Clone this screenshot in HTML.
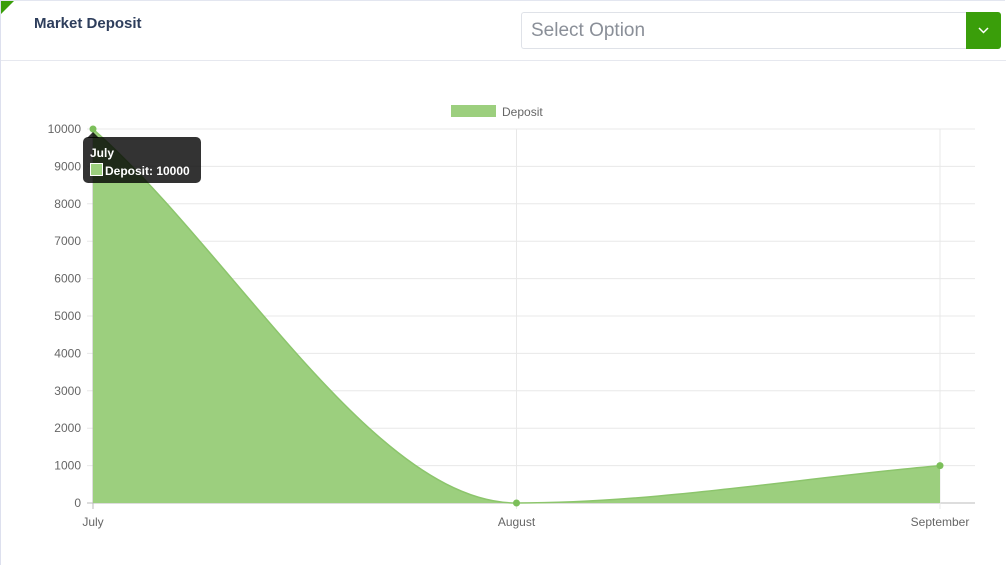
<!DOCTYPE html>
<html><head><meta charset="utf-8"><style>
body{margin:0;width:1006px;height:565px;background:#fff;font-family:"Liberation Sans",sans-serif;overflow:hidden;position:relative}
</style></head><body>
<div style="position:absolute;left:0;top:0;width:1005px;height:565px;border-left:1px solid #dde0ee;border-top:1px solid #e3e6f0;box-sizing:border-box"></div>
<div style="position:absolute;left:1px;top:1px;width:0;height:0;border-top:13px solid #3a9e0a;border-right:13px solid transparent"></div>
<div style="position:absolute;left:34px;top:15px;font-size:15px;font-weight:bold;color:#2e3e5c">Market Deposit</div>
<div style="position:absolute;left:1px;top:60px;width:1005px;height:1px;background:#e6e8ef"></div>
<div style="position:absolute;left:521px;top:12px;width:445px;height:37px;border:1px solid #dfe2e8;border-right:none;border-radius:3px 0 0 3px;box-sizing:border-box;font-size:19px;color:#8a8f98;line-height:36px;padding-left:9px">Select Option</div>
<div style="position:absolute;left:966px;top:12px;width:35px;height:37px;background:#3a9e0a;border-radius:0 3px 3px 0">
<svg width="35" height="37"><polyline points="13,16 17.5,20.5 22,16" fill="none" stroke="#fff" stroke-width="1.5"/></svg></div>
<svg id="chart" width="1006" height="565" style="position:absolute;left:0;top:0"></svg>
<script>
const categories=["July","August","September"];
const depositValues=[10000,0,1000];
const yTicks=[0,1000,2000,3000,4000,5000,6000,7000,8000,9000,10000];
const NS="http://www.w3.org/2000/svg";
const svg=document.getElementById('chart');
const X0=93,X1=940,Y0=503,Y1=129,RIGHT=975;
const yMax=10000;
const xs=i=>X0+(X1-X0)*i/(categories.length-1);
const ys=v=>Y0-(Y0-Y1)*v/yMax;
function el(t,a,p){const e=document.createElementNS(NS,t);for(const k in a)e.setAttribute(k,a[k]);(p||svg).appendChild(e);return e;}
yTicks.forEach(v=>{
const l=el('line',{x1:87,x2:RIGHT,y1:ys(v),y2:ys(v),stroke:v===0?'#bbb':'#e8e8e8','stroke-width':1});


const t=el('text',{x:81,y:ys(v)+4,'text-anchor':'end','font-size':12,fill:'#666','font-family':'Liberation Sans, sans-serif'});
t.textContent=v;


});
categories.forEach((c,i)=>{
const l=el('line',{x1:xs(i),x2:xs(i),y1:Y1,y2:Y0+6,stroke:i===0?'#bbb':'#e8e8e8','stroke-width':1});


const t=el('text',{x:xs(i),y:Y0+23,'text-anchor':'middle','font-size':12,fill:'#666','font-family':'Liberation Sans, sans-serif'});
t.textContent=c;


});
const pts=depositValues.map((v,i)=>[xs(i),ys(v)]);
const n=pts.length,del=[],m=[];
for(let i=0;i<n-1;i++)del.push((pts[i+1][1]-pts[i][1])/(pts[i+1][0]-pts[i][0]));
for(let i=0;i<n;i++){if(i===0)m.push(del[0]);else if(i===n-1)m.push(del[n-2]);else m.push(del[i-1]*del[i]<=0?0:(del[i-1]+del[i])/2);}
let d=`M${pts[0][0]},${pts[0][1]}`;
for(let i=0;i<n-1;i++){const dx=(pts[i+1][0]-pts[i][0])/3;
d+=` C${pts[i][0]+dx},${pts[i][1]+m[i]*dx} ${pts[i+1][0]-dx},${pts[i+1][1]-m[i+1]*dx} ${pts[i+1][0]},${pts[i+1][1]}`;}
const area=el('path',{d:d+` L${pts[n-1][0]},${Y0} L${pts[0][0]},${Y0} Z`,fill:'#9ccf7e'});


const line=el('path',{d:d,fill:'none',stroke:'#8cc56c','stroke-width':1.5});


pts.forEach(p=>{const c=el('circle',{cx:p[0],cy:p[1],r:3.5,fill:'#7cbf5a'});

});
const lg=el('rect',{x:451,y:105,width:45,height:12,fill:'#9ccf7e'});


const lt=el('text',{x:502,y:116,'font-size':12,fill:'#666','font-family':'Liberation Sans, sans-serif'});
lt.textContent='Deposit';


const tg=el('g',{});


el('path',{d:`M${pts[0][0]},${pts[0][1]+3} L${pts[0][0]+6},${pts[0][1]+9} L${pts[0][0]-6},${pts[0][1]+9} Z`,fill:'rgba(0,0,0,0.8)'},tg);
el('rect',{x:83,y:137,width:118,height:46,rx:5,fill:'rgba(0,0,0,0.8)'},tg);
const t1=el('text',{x:90,y:157,'font-size':12,'font-weight':'bold',fill:'#fff','font-family':'Liberation Sans, sans-serif'},tg);t1.textContent=categories[0];
el('rect',{x:90.5,y:163.5,width:12,height:12,fill:'#9ccf7e',stroke:'#fff'},tg);
const t2=el('text',{x:105,y:175,'font-size':12,'font-weight':'bold',fill:'#fff','font-family':'Liberation Sans, sans-serif'},tg);t2.textContent='Deposit: '+depositValues[0];
</script>
</body></html>
